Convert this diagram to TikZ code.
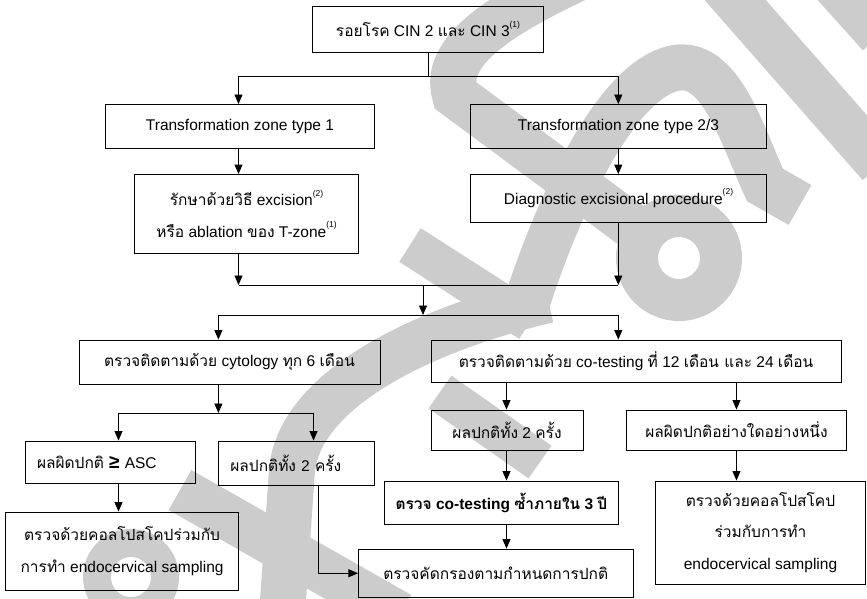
\documentclass[tikz,border=0pt]{standalone}
\usepackage{fontspec}
\setmainfont{Liberation Sans}
\newfontfamily\thaifont[Script=Thai]{Loma}
\usetikzlibrary{arrows.meta}
\definecolor{wmgray}{HTML}{CCCCCC}
% small raised reference mark
\newcommand\refmark[1]{\raisebox{0.62em}{\fontsize{8.5pt}{8.5pt}\selectfont(#1)}}

\begin{document}
\begin{tikzpicture}[x=1pt,y=-1pt,
  box/.style={draw=black, line width=0.9pt, inner sep=0pt, align=center,
    font=\fontsize{15.5pt}{31.5pt}\selectfont},
  leftbox/.style={box, inner xsep=12pt, align=left},
  arr/.style={draw=black, line width=0.9pt, -{Triangle[width=8pt,length=9.5pt]}},
  link/.style={draw=black, line width=0.9pt},
  wm/.style={draw=wmgray, line width=46pt}]

\useasboundingbox (0,0) rectangle (867,599);

% background watermark strokes
\begin{scope}
  \draw[wm] (595,-30) .. controls (520,5) and (440,45) .. (455,95) -- (640,232);
  \draw[wmgray, line width=42pt] (679,258) circle[radius=42];
  \draw[wm] (522,318) .. controls (555,210) and (615,80) .. (675,68)
            .. controls (720,60) and (740,130) .. (765,185) -- (800,205);
  \draw[wm] (722,-15) -- (880,165);
  \draw[wm] (835,-15) -- (880,35);
  \draw[wmgray, line width=40pt] (410,245) -- (530,322);
  \draw[wm] (548,300) .. controls (420,330) and (300,390) .. (292,470) -- (282,615);
  \draw[wmgray, line width=40pt] (440,392) -- (540,462);
  \draw[wm] (180,490) -- (400,615);
  \draw[wmgray, line width=28pt] (131,577) circle[radius=34];
\end{scope}

% column positions of the vertical connectors
\coordinate (cL) at (238.5,0);
\coordinate (cR) at (618.3,0);
\coordinate (cC) at (218.4,0);
\coordinate (cA) at (118.5,0);
\coordinate (cN) at (313.5,0);
\coordinate (cE) at (318.3,0);
\coordinate (cT) at (506.5,0);

% boxes
\node[box, minimum width=231pt, minimum height=46pt] (top) at (428,29)
  {{\thaifont รอยโรค} CIN 2 {\thaifont และ} CIN 3\refmark{1}};
\node[box, minimum width=269pt, minimum height=44pt] (tz1) at (240,126.5)
  {Transformation zone type 1};
\node[box, minimum width=295.6pt, minimum height=44pt] (tz2) at (618.5,126.5)
  {Transformation zone type 2/3};
\node[box, minimum width=223.7pt, minimum height=78.5pt] (exc) at (246.55,213.75)
  {{\thaifont รักษาด้วยวิธี} excision\refmark{2}\\
   {\thaifont หรือ} ablation {\thaifont ของ} T-zone\refmark{1}};
\node[box, minimum width=295.6pt, minimum height=47.5pt] (diag) at (618.5,198.25)
  {Diagnostic excisional procedure\refmark{2}};
\node[box, minimum width=301pt, minimum height=44pt] (cyto) at (229.5,362)
  {{\thaifont ตรวจติดตามด้วย} cytology {\thaifont ทุก} 6 {\thaifont เดือน}};
\node[box, minimum width=410pt, minimum height=42pt] (cotest) at (636,361)
  {{\thaifont ตรวจติดตามด้วย} co-testing {\thaifont ที่} 12 {\thaifont เดือน และ} 24 {\thaifont เดือน}};
\node[leftbox, text width=146pt, minimum height=42pt] (asc) at (110,462)
  {{\thaifont ผลผิดปกติ} {\fontsize{19pt}{19pt}\selectfont\bfseries ≥} ASC};
\node[leftbox, text width=132.3pt, minimum height=44pt] (lnorm) at (296.55,463)
  {{\thaifont ผลปกติทั้ง} 2 {\thaifont ครั้ง}};
\node[box, minimum width=233.2pt, minimum height=78pt] (colpoL) at (122.1,551)
  {{\thaifont ตรวจด้วยคอลโปสโคปร่วมกับ}\\{\thaifont การทำ} endocervical sampling};
\node[box, minimum width=152pt, minimum height=40pt] (rnorm) at (507,430)
  {{\thaifont ผลปกติทั้ง} 2 {\thaifont ครั้ง}};
\node[box, minimum width=219.5pt, minimum height=40pt] (abn) at (736.45,430)
  {{\thaifont ผลผิดปกติอย่างใดอย่างหนึ่ง}};
\node[box, minimum width=234pt, minimum height=43pt, font=\fontsize{15.5pt}{31.5pt}\selectfont\bfseries] (rep) at (501.4,502.5)
  {{\thaifont ตรวจ} co-testing {\thaifont ซ้ำภายใน} 3 {\thaifont ปี}};
\node[box, minimum width=274.6pt, minimum height=48.5pt] (screen) at (495.7,573.25)
  {{\thaifont ตรวจคัดกรองตามกำหนดการปกติ}};
\node[box, minimum width=210pt, minimum height=103pt] (colpoR) at (760.5,532.5)
  {{\thaifont ตรวจด้วยคอลโปสโคป}\\{\thaifont ร่วมกับการทำ}\\endocervical sampling};

% junction points
\coordinate (j1) at (428,76);
\coordinate (j2) at (423,285);
\coordinate (j3) at (423,315);
\coordinate (j4) at (218.4,413);

% connectors
\draw[link] (top.south) -- (top.south |- j1);
\draw[arr] (top.south |- j1) -| (cL |- tz1.north);
\draw[arr] (top.south |- j1) -| (cR |- tz2.north);
\draw[arr] (cL |- tz1.south) -- (cL |- exc.north);
\draw[arr] (cR |- tz2.south) -- (cR |- diag.north);
\draw[arr] (cL |- exc.south) -- (cL |- j2);
\draw[arr] (cR |- diag.south) -- (cR |- j2);
\draw[link] (cL |- j2) -- (cR |- j2);
\draw[arr] (j2) -- (j3);
\draw[link] (cC |- j3) -- (cR |- j3);
\draw[arr] (cC |- j3) -- (cC |- cyto.north);
\draw[arr] (cR |- j3) -- (cR |- cotest.north);
\draw[arr] (cC |- cyto.south) -- (j4);
\draw[link] (cA |- j4) -- (cN |- j4);
\draw[arr] (cA |- j4) -- (cA |- asc.north);
\draw[arr] (cN |- j4) -- (cN |- lnorm.north);
\draw[arr] (cA |- asc.south) -- (cA |- colpoL.north);
\draw[arr] (cE |- lnorm.south) |- (screen.west);
\draw[arr] (cT |- cotest.south) -- (cT |- rnorm.north);
\draw[arr] (abn.north |- cotest.south) -- (abn.north);
\draw[arr] (cT |- rnorm.south) -- (cT |- rep.north);
\draw[arr] (cT |- rep.south) -- (cT |- screen.north);
\draw[arr] (abn.south) -- (abn.south |- colpoR.north);
\end{tikzpicture}
\end{document}
